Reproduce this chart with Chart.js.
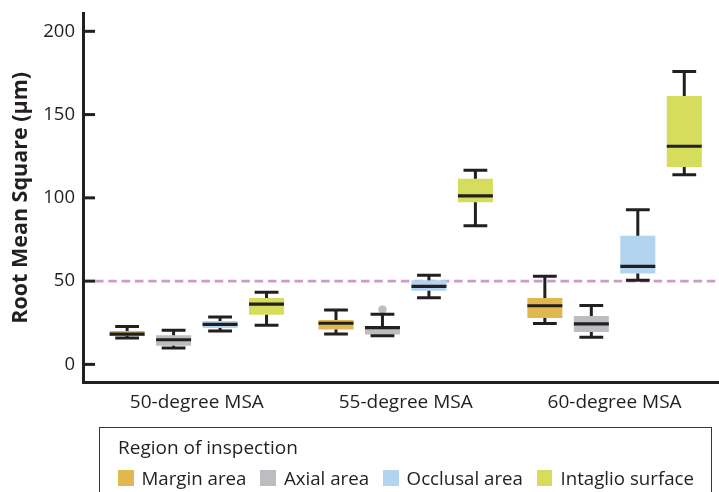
<!DOCTYPE html>
<html>
<head>
<meta charset="utf-8">
<script src="https://cdn.jsdelivr.net/npm/chart.js@4.4.0/dist/chart.umd.min.js"></script>
<style>
  html, body { margin: 0; padding: 0; background: #fff; }
  #wrap { position: relative; width: 719px; height: 492px; overflow: hidden; font-family: "Open Sans", sans-serif; color: #231f20; }
  #legend { position: absolute; left: 99px; top: 427px; width: 613px; height: 90px; box-sizing: border-box; border: 1.5px solid #3a3738; padding: 7px 0 0 18px; }
  #legend .title { font-size: 19px; line-height: 24px; white-space: nowrap; }
  #legend .row { display: flex; align-items: center; margin-top: 8px; font-size: 18.7px; line-height: 22px; white-space: nowrap; }
  #legend .sw { width: 15.5px; height: 15.5px; margin-right: 8px; flex: 0 0 auto; }
  #legend .item { display: flex; align-items: center; margin-right: 14px; flex: 0 0 auto; }
</style>
</head>
<body>
<div id="wrap">
  <canvas id="rmsChart" width="719" height="492"></canvas>
  <div id="legend">
    <div class="title">Region of inspection</div>
    <div class="row" id="legendRow"></div>
  </div>
</div>
<script>
// groups on the x axis
const categories = ['50-degree MSA', '55-degree MSA', '60-degree MSA'];
const regions = ['Margin area', 'Axial area', 'Occlusal area', 'Intaglio surface'];
const regionColors = ['#e1b850', '#bcbdc0', '#b2d4ee', '#d6dc5c'];

// [min, q1, median, q3, max] per category
const marginStats = [[15.9, 17.2, 18.2, 20.1, 22.7], [18.3, 20.9, 24.7, 26.6, 32.6], [24.5, 27.9, 35.2, 39.8, 52.9]];
const axialStats = [[9.8, 11.2, 14.8, 17.5, 20.5], [17.2, 17.9, 22.1, 22.7, 30.1], [16.3, 19.5, 24.3, 29.0, 35.4]];
const occlusalStats = [[20.1, 21.9, 24.0, 26.0, 28.4], [40.0, 44.2, 46.9, 50.5, 53.5], [50.5, 54.5, 58.9, 77.2, 92.9]];
const intaglioStats = [[23.5, 29.8, 36.2, 39.8, 43.3], [83.3, 97.4, 101.2, 111.5, 116.5], [113.8, 118.5, 131.0, 161.1, 175.8]];
const allStats = [marginStats, axialStats, occlusalStats, intaglioStats];

// outliers (null = none)
const marginOutliers = [null, null, null];
const axialOutliers = [null, 32.9, null];
const occlusalOutliers = [null, null, null];
const intaglioOutliers = [null, null, null];
const allOutliers = [marginOutliers, axialOutliers, occlusalOutliers, intaglioOutliers];

const yTicks = [0, 50, 100, 150, 200];
const thresholdValue = 50;

const ink = '#231f20';

const datasets = regions.map((name, r) => ({
  label: name,
  data: allStats[r].map((s, i) => ({ x: i, y: [s[1], s[3]] })),
  stats: allStats[r],
  outliers: allOutliers[r],
  backgroundColor: regionColors[r],
  borderWidth: 0,
  categoryPercentage: 0.89,
  barPercentage: 0.753
}));

// dashed threshold and inward y ticks
const axisExtras = {
  id: 'axisExtras',
  beforeDatasetsDraw(chart) {
    const { ctx, chartArea } = chart;
    const y = chart.scales.y;
    const py = y.getPixelForValue(thresholdValue);
    ctx.save();
    ctx.strokeStyle = '#cb9dc6';
    ctx.lineWidth = 2.6;
    ctx.setLineDash([8.5, 4.8]);
    ctx.beginPath();
    ctx.moveTo(chartArea.left + 12, py);
    ctx.lineTo(chartArea.right, py);
    ctx.stroke();
    ctx.restore();
  },
  afterDraw(chart) {
    const { ctx, chartArea } = chart;
    const y = chart.scales.y;
    ctx.save();
    ctx.strokeStyle = ink;
    ctx.lineWidth = 3;
    y.ticks.forEach((t) => {
      const py = y.getPixelForValue(t.value);
      ctx.beginPath();
      ctx.moveTo(chartArea.left, py);
      ctx.lineTo(chartArea.left + 12, py);
      ctx.stroke();
    });
    ctx.restore();
  }
};

// whiskers, medians and outliers on top of the floating bars
const boxWhiskers = {
  id: 'boxWhiskers',
  afterDatasetsDraw(chart) {
    const ctx = chart.ctx;
    const y = chart.scales.y;
    ctx.save();
    chart.data.datasets.forEach((ds, i) => {
      const meta = chart.getDatasetMeta(i);
      meta.data.forEach((bar, j) => {
        const s = ds.stats[j];
        const cx = bar.x;
        const half = bar.width / 2;
        const cap = bar.width * 0.34;
        const yMin = y.getPixelForValue(s[0]);
        const yQ1 = y.getPixelForValue(s[1]);
        const yMed = y.getPixelForValue(s[2]);
        const yQ3 = y.getPixelForValue(s[3]);
        const yMax = y.getPixelForValue(s[4]);

        if (ds.outliers[j] !== null) {
          ctx.fillStyle = ds.backgroundColor;
          ctx.beginPath();
          ctx.arc(cx, y.getPixelForValue(ds.outliers[j]), 4.2, 0, Math.PI * 2);
          ctx.fill();
        }

        ctx.strokeStyle = ink;
        ctx.lineWidth = 3;
        ctx.beginPath();
        ctx.moveTo(cx, yQ3); ctx.lineTo(cx, yMax);
        ctx.moveTo(cx, yQ1); ctx.lineTo(cx, yMin);
        ctx.moveTo(cx - cap, yMax); ctx.lineTo(cx + cap, yMax);
        ctx.moveTo(cx - cap, yMin); ctx.lineTo(cx + cap, yMin);
        ctx.stroke();

        ctx.lineWidth = 3.2;
        ctx.beginPath();
        ctx.moveTo(cx - half, yMed);
        ctx.lineTo(cx + half, yMed);
        ctx.stroke();
      });
    });
    ctx.restore();
  }
};

new Chart(document.getElementById('rmsChart'), {
  type: 'bar',
  data: { datasets },
  options: {
    responsive: false,
    animation: false,
    events: [],
    layout: { padding: { top: 13, right: 0, bottom: 70.5, left: 0 } },
    plugins: { legend: { display: false }, tooltip: { enabled: false } },
    scales: {
      x: {
        type: 'linear',
        offset: false,
        min: -0.545,
        max: 2.5,
        grid: { display: false, drawTicks: false, offset: false },
        border: { display: true, color: ink, width: 3 },
        afterBuildTicks: (scale) => { scale.ticks = categories.map((c, i) => ({ value: i })); },
        afterFit: (scale) => { scale.paddingLeft = 0; scale.paddingRight = 0; },
        ticks: {
          color: ink,
          padding: 8,
          maxRotation: 0,
          autoSkip: false,
          font: { family: 'Open Sans', size: 19 },
          callback: (v) => categories[v]
        }
      },
      y: {
        min: -11,
        max: 211,
        grid: { display: false, drawTicks: false },
        border: { display: true, color: ink, width: 3 },
        afterBuildTicks: (scale) => { scale.ticks = yTicks.map((v) => ({ value: v })); },
        afterFit: (scale) => { scale.width = 83; scale.paddingTop = 0; scale.paddingBottom = 0; },
        ticks: {
          color: ink,
          padding: 8,
          font: { family: 'Open Sans', size: 18.5 }
        },
        title: {
          display: true,
          text: 'Root Mean Square (\u03bcm)',
          color: ink,
          padding: { top: 8, bottom: 0 },
          font: { family: 'Open Sans', size: 21.5, weight: 'bold' }
        }
      }
    }
  },
  plugins: [axisExtras, boxWhiskers]
});

// html legend built from the region arrays
const row = document.getElementById('legendRow');
regions.forEach((name, r) => {
  const item = document.createElement('div');
  item.className = 'item';
  const sw = document.createElement('span');
  sw.className = 'sw';
  sw.style.background = regionColors[r];
  const txt = document.createElement('span');
  txt.textContent = name;
  item.appendChild(sw);
  item.appendChild(txt);
  row.appendChild(item);
});
</script>
</body>
</html>
